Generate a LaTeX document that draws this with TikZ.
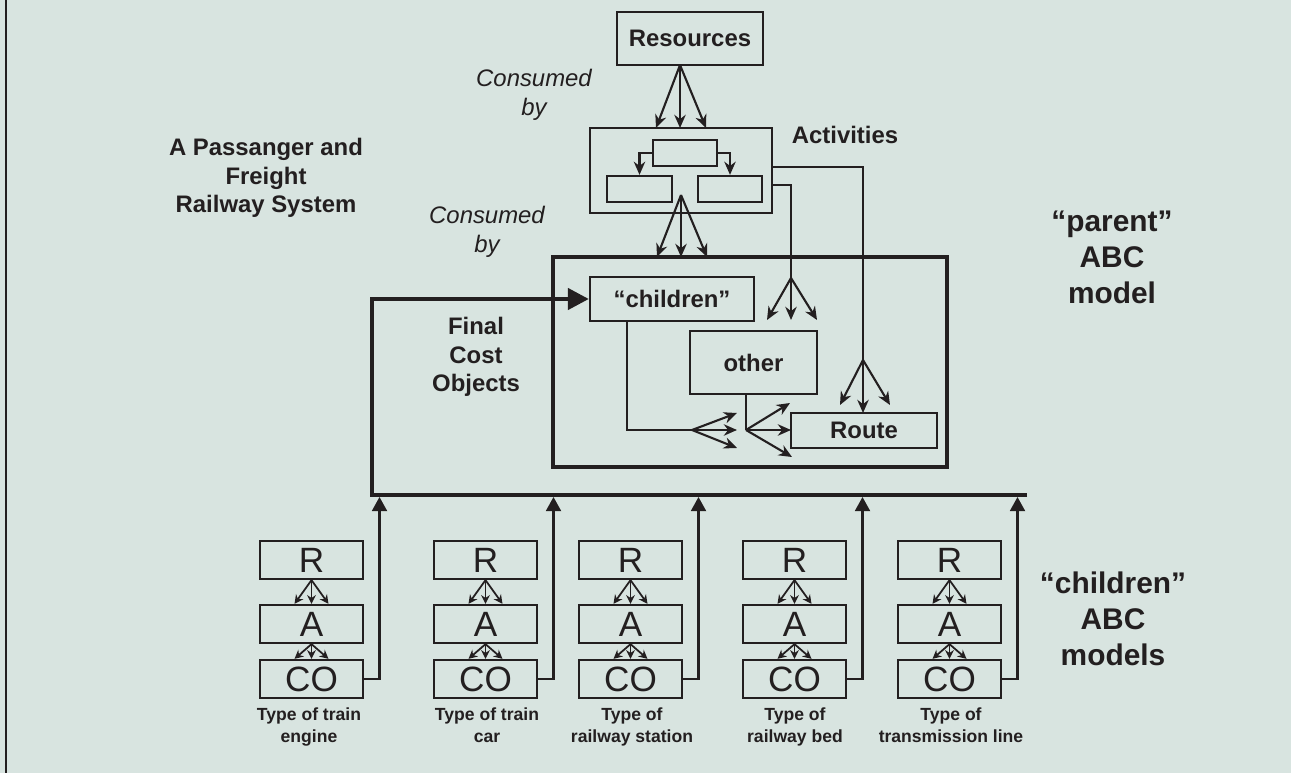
\documentclass[tikz,border=0pt]{standalone}
\usepackage{fontspec}
\setmainfont{Liberation Sans}
\usepackage{xcolor}
\usetikzlibrary{arrows.meta, calc}

\definecolor{panel}{RGB}{216,228,224}
\definecolor{ink}{RGB}{35,31,32}

\begin{document}
\begin{tikzpicture}[
        x=0.02cm, y=-0.02cm, % one unit = one pixel of the sheet
        % --- Boxes and Labels ---
        box/.style={draw=ink, line width=1.3pt, inner sep=0pt, text=ink,
            font=\fontsize{13.6}{16.4}\selectfont\bfseries},
        bigbox/.style={draw=ink, line width=2.5pt, inner sep=0pt},
        letterbox/.style={draw=ink, line width=1.3pt, inner sep=0pt, text=ink,
            minimum width=2.06cm, minimum height=0.76cm,
            font=\fontsize{20}{20}\selectfont},
        label/.style={text=ink, align=center, inner sep=0pt,
            font=\fontsize{13.6}{16.4}\selectfont\bfseries},
        quote/.style={text=ink, align=center, inner sep=0pt,
            font=\fontsize{13.6}{16.4}\selectfont\itshape},
        headline/.style={text=ink, align=center, inner sep=0pt,
            font=\fontsize{17}{20.5}\selectfont\bfseries},
        sublabel/.style={text=ink, align=center, inner sep=0pt, anchor=north,
            font=\fontsize{10}{12.5}\selectfont\bfseries},
        % --- Connectors ---
        wire/.style={draw=ink, line width=1.2pt},
        fan/.style={wire, -{Stealth[length=7.5pt, width=6.5pt]}},
        minifan/.style={wire, line width=1pt, -{Stealth[length=5pt, width=5pt]}},
        tap/.style={wire, -{Triangle[length=8pt, width=8.5pt]}},
        feedback/.style={draw=ink, line width=2.5pt, line join=miter,
            -{Triangle[length=12pt, width=12pt]}}
    ]

    % ==================== 0. SHEET ====================
    \fill[panel] (0,0) rectangle (1291,773);
    \useasboundingbox (0,0) rectangle (1291,773);
    \draw[ink, line width=1.5pt] (6,0) -- (6,773);

    % ==================== 1. PARENT MODEL ====================
    \node[box, minimum width=2.92cm, minimum height=1.06cm] (res) at (690,38.5) {Resources};

    \node[box, minimum width=3.64cm, minimum height=1.70cm] (act) at (681,170.5) {};
    \node[box, minimum width=1.28cm, minimum height=0.52cm] (acttop) at (685,153) {};
    \node[box, minimum width=1.30cm, minimum height=0.52cm] (actl) at (639.5,189) {};
    \node[box, minimum width=1.28cm, minimum height=0.52cm] (actr) at (730,189) {};

    \node[bigbox, minimum width=7.88cm, minimum height=4.20cm] (parent) at (750,362) {};
    \node[box, minimum width=3.28cm, minimum height=0.88cm] (child) at (672,299) {``children''};
    \node[box, minimum width=2.54cm, minimum height=1.26cm] (other) at (753.5,362.5) {other};
    \node[box, minimum width=2.92cm, minimum height=0.70cm] (route) at (864,430.5) {Route};

    % Texts
    \node[label] (title) at (266,178) {A Passanger and\\Freight\\Railway System};
    \node[quote] (consumed1) at (534,95) {Consumed\\by};
    \node[quote] (consumed2) at (487,232) {Consumed\\by};
    \node[label] (actname) at (845,135) {Activities};
    \node[label] (finalname) at (476,357) {Final\\Cost\\Objects};
    \node[headline] (parentname) at (1112,257) {``parent''\\ABC\\model};
    \node[headline] (childrenname) at (1113,619) {``children''\\ABC\\models};

    % Hubs where the arrows fan out
    \coordinate (resfan)   at (680,65);
    \coordinate (actfan)   at (681,195);
    \coordinate (actout1)  at (772,167);
    \coordinate (actout2)  at (772,185);
    \coordinate (routefan) at (863,360);
    \coordinate (otherfan) at (791,278);
    \coordinate (childout) at (627,321);
    \coordinate (childfan) at (692,430);
    \coordinate (otherhub) at (746,430);

    % Consumed by
    \foreach \dx in {-24,0,26} {
        \draw[fan] (resfan) -- ++(\dx,63);
        \draw[fan] (actfan) -- ++(\dx,62);
        \draw[fan] (otherfan) -- ++(\dx,42);
    }
    \draw[fan] (acttop.west) -| (actl.north);
    \draw[fan] (acttop.east) -| (actr.north);

    % Activities to other cost objects
    \draw[wire] (actout1) -| (routefan);
    \draw[wire] (actout2) -| (otherfan);
    \foreach \dx/\dy in {-23/45, 0/53, 27/45}
        \draw[fan] (routefan) -- ++(\dx,\dy);

    % Between the final cost objects
    \draw[wire] (childout) |- (childfan);
    \foreach \dy in {-17,0,18}
        \draw[fan] (childfan) -- ++(45,\dy);
    \draw[wire] (other.south -| otherhub) -- (otherhub);
    \foreach \dx/\dy in {44/-27, 45/0, 46/27}
        \draw[fan] (otherhub) -- ++(\dx,\dy);

    % ==================== 2. CHILDREN MODELS ====================
    \coordinate (busL) at (372,495);
    \coordinate (busR) at (1027,495);
    \draw[feedback] (busR) -- (busL) |- (child.west);

    \foreach \c [count=\i] in {311.5,485.5,630.5,794.5,949.5} {
        \node[letterbox] (r\i)  at (\c,560) {R};
        \node[letterbox] (a\i)  at (\c,624) {A};
        \node[letterbox] (co\i) at (\c,679) {CO};
        \coordinate (tap\i) at (\c+68,497);
        \foreach \dx in {-17,0,17} {
            \draw[minifan] (r\i.south) -- ($(a\i.north)+(\dx,0)$);
            \draw[minifan] (a\i.south) -- ($(co\i.north)+(\dx,0)$);
        }
        \draw[tap] (co\i.east) -| (tap\i);
    }

    \foreach \c/\txt [count=\i] in {
            309/{Type of train\\engine},
            487/{Type of train\\car},
            632/{Type of\\railway station},
            795/{Type of\\railway bed},
            951/{Type of\\transmission line}}
        \node[sublabel] (type\i) at (\c,707) {\txt};

\end{tikzpicture}
\end{document}
